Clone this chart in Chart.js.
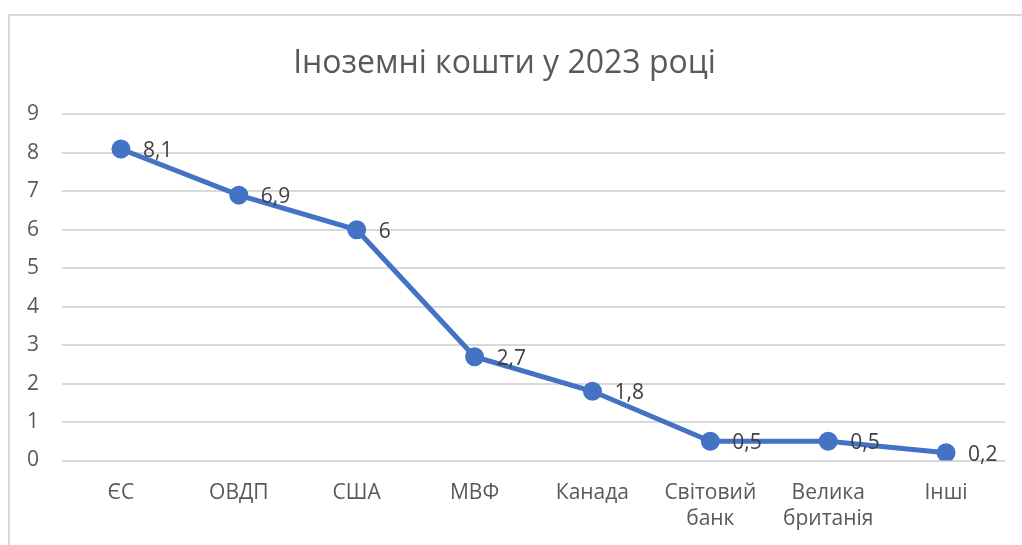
<!DOCTYPE html>
<html>
<head>
<meta charset="utf-8">
<script src="https://cdn.jsdelivr.net/npm/chart.js@4/dist/chart.umd.min.js"></script>
<style>
  html, body { margin: 0; padding: 0; background: #fff; }
  #wrap { position: relative; width: 1022px; height: 545px; overflow: hidden; }
  #frame { position: absolute; left: 8px; top: 14px; width: 1030px; height: 560px; border: 2px solid #d9d9d9; box-sizing: border-box; }
  canvas { position: absolute; left: 0; top: 0; }
</style>
</head>
<body>
<div id="wrap">
  <div id="frame"></div>
  <canvas id="chart" width="1022" height="545"></canvas>
</div>
<script>
const categories = [["ЄС"], ["ОВДП"], ["США"], ["МВФ"], ["Канада"], ["Світовий", "банк"], ["Велика", "британія"], ["Інші"]];
const values = [8.1, 6.9, 6, 2.7, 1.8, 0.5, 0.5, 0.2];
const chartTitle = "Іноземні кошти у 2023 році";

// labels right of each point, with comma decimals
const pointLabels = {
    id: "pointLabels",
    afterDatasetsDraw(chart) {
        const ctx = chart.ctx;
        const meta = chart.getDatasetMeta(0);
        ctx.save();
        ctx.font = "21px 'Open Sans', 'DejaVu Sans', sans-serif";
        ctx.fillStyle = "#404040";
        ctx.textAlign = "left";
        ctx.textBaseline = "middle";
        meta.data.forEach((pt, i) => {
            const txt = String(values[i]).replace(".", ",");
            ctx.fillText(txt, pt.x + 22, pt.y + 2);
        });
        ctx.restore();
    }
};

new Chart(document.getElementById("chart"), {
    type: "line",
    data: {
        labels: categories,
        datasets: [{
            data: values,
            borderColor: "#4472C4",
            backgroundColor: "#4472C4",
            borderWidth: 5,
            pointRadius: 7,
            pointHoverRadius: 7,
            tension: 0
        }]
    },
    options: {
        responsive: false,
        animation: false,
        layout: { padding: { left: 4, right: 17, top: 45, bottom: 2 } },
        plugins: {
            legend: { display: false },
            tooltip: { enabled: false },
            title: {
                display: true,
                text: chartTitle,
                color: "#595959",
                font: { family: "'Open Sans', 'DejaVu Sans', sans-serif", size: 32, weight: "normal" },
                padding: { top: 0, bottom: 31 }
            }
        },
        scales: {
            x: {
                offset: true,
                grid: { display: false },
                border: { display: false },
                ticks: {
                    color: "#595959",
                    font: { family: "'Open Sans', 'DejaVu Sans', sans-serif", size: 21, lineHeight: 1.25 },
                    padding: 11,
                    maxRotation: 0,
                    autoSkip: false
                }
            },
            y: {
                min: 0,
                max: 9,
                grid: { color: "#d9d9d9", lineWidth: 2, drawTicks: false },
                border: { display: false },
                ticks: {
                    stepSize: 1,
                    color: "#595959",
                    font: { family: "'Open Sans', 'DejaVu Sans', sans-serif", size: 21 },
                    padding: 23
                }
            }
        }
    },
    plugins: [pointLabels]
});
</script>
</body>
</html>
